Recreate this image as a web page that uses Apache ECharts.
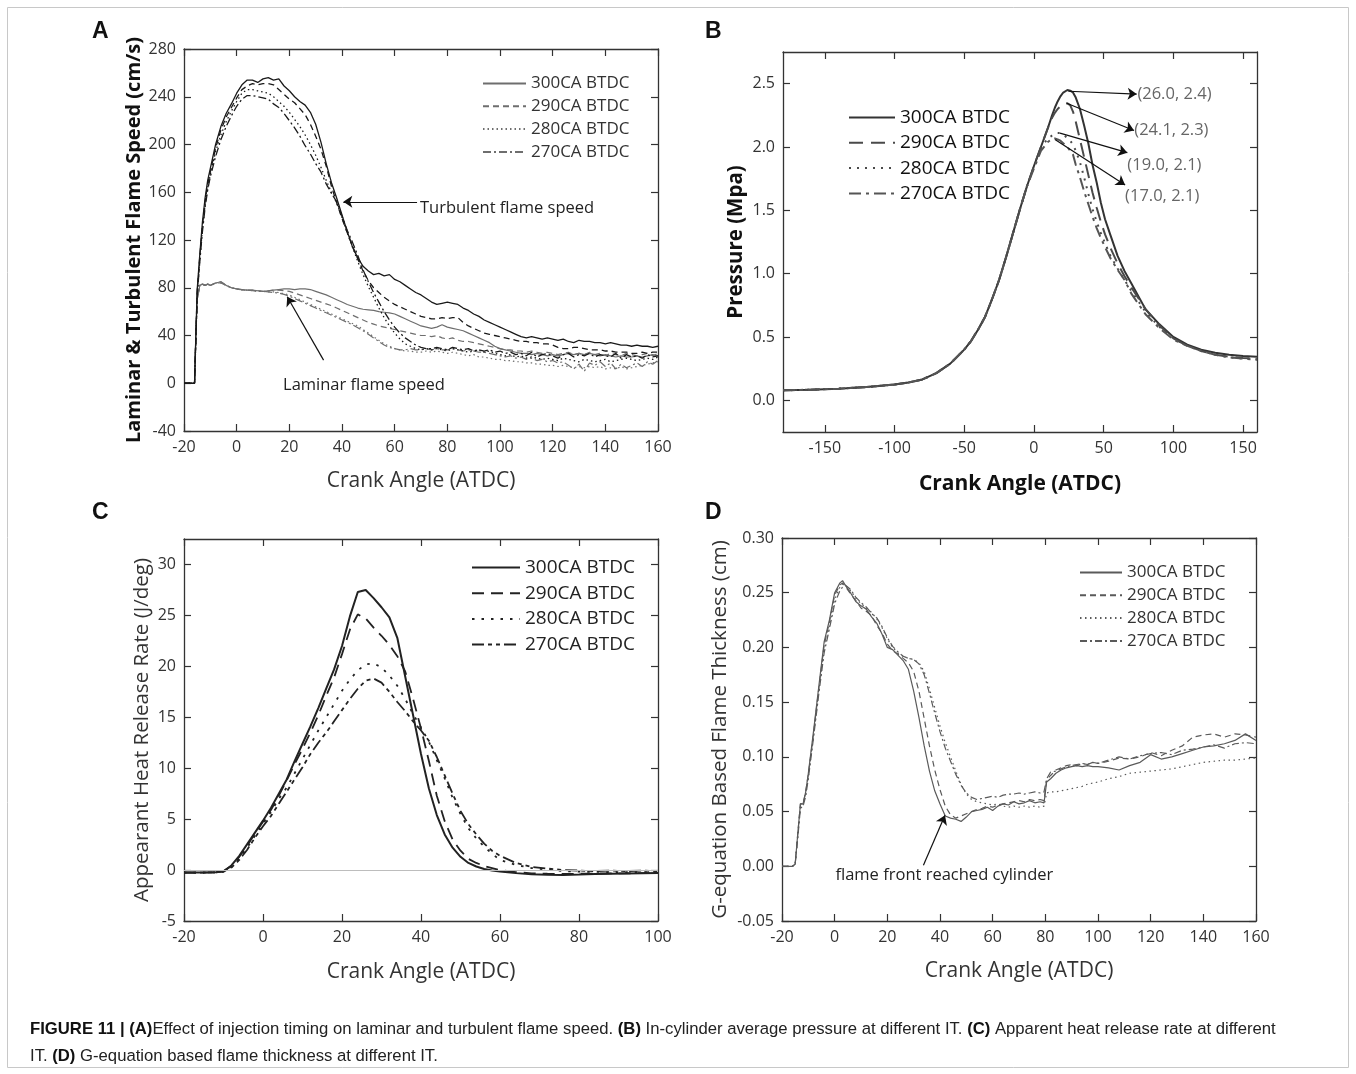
<!DOCTYPE html>
<html><head><meta charset="utf-8">
<script src="https://cdn.jsdelivr.net/npm/echarts@6/dist/echarts.min.js"></script>
<style>html,body{margin:0;padding:0;background:#fff}#c{width:1356px;height:1074px}</style>
</head><body><div id="c"></div>
<script>
// ---------------- Panel A : flame speed ----------------
const aX = [-20,-16,-15.5,-15,-14,-13,-12,-11,-10,-8,
 -6,-4,-2,0,2,4,6,8,10,12,
 14,16,18,20,22,24,26,28,30,32,
 34,36,38,40,42,44,46,48,50,52,
 54,56,58,60,62,64,66,68,70,72,
 74,76,78,80,82,84,86,88,90,92,
 94,96,98,100,102,104,106,108,110,112,
 114,116,118,120,122,124,126,128,130,132,
 134,136,138,140,142,144,146,148,150,152,
 154,156,158,160];
const aTurb300 = [0,0,40,78,108,135,155,170,180,200,
 215,226,234,243,250,254,254,252,255,256,
 254,255,249,245,240,236,233,227,217,202,
 184,168,155,141,127,114,105,98,94,91,
 92,90,91,87,85,82,79,76,74,71,
 68,66,67,68,67,66,63,61,58,56,
 53,51,49,47,45,43,41,39,38,39,
 38,37,38,37,36,37,35,34,36,35,
 35,34,34,33,34,33,32,32,31,32,
 31,31,30,31];
const aTurb290 = [0,0,38,76,106,132,152,167,177,197,
 212,223,231,239,246,249,251,250,251,251,
 250,246,242,238,235,230,225,217,207,196,
 182,165,151,138,126,115,104,94,86,80,
 76,72,69,66,64,62,60,58,56,55,
 54,54,55,54,55,55,51,48,46,44,
 42,41,40,39,38,37,36,35,35,34,
 34,33,33,32,30,29,29,30,30,29,
 28,28,28,27,27,26,26,26,25,25,
 26,25,26,26];
const aTurb280 = [0,0,36,74,104,129,149,164,175,194,
 208,219,228,236,243,246,246,245,244,243,
 240,236,232,227,221,215,208,200,191,181,
 170,160,151,139,126,114,102,91,81,72,
 63,55,48,42,37,33,31,29,28,29,
 28,29,28,27,29,28,27,26,27,28,
 26,27,25,24,23,24,22,23,21,22,
 21,20,21,20,19,21,20,19,18,20,
 19,18,19,20,18,19,20,21,20,19,
 20,21,20,22];
const aTurb270 = [0,0,36,73,102,127,147,162,173,190,
 204,215,224,232,238,241,241,240,239,238,
 234,231,226,220,214,207,199,192,184,177,
 167,159,152,140,128,118,107,95,85,76,
 68,60,53,47,42,38,35,32,30,29,
 29,30,29,28,30,29,28,29,27,28,
 27,28,26,27,25,26,24,25,23,26,
 22,24,25,23,21,24,25,22,24,23,
 25,22,24,23,22,25,21,24,22,23,
 21,24,22,23];
const aLam300 = [0,0,40,70,82,83,82,83,82,84,
 85,82,80,79,78.5,78,78,77.5,77,77.5,
 78,78.5,79,79,78.5,79,79,78.5,77,75.5,
 74,72,70,68,66,64.5,63,62,61.5,61,
 60,59.5,59,58,56,54,52,50,48,47,
 46,47,49,47,46,45,44,42,40,38,
 36,34,31,29,28,27,26,25,25,24,
 25,24,23,24,23,24,25,24,25,24,
 25,24,23,24,23,22,23,22,22,23,
 22,23,24,23];
const aLam290 = [0,0,40,70,82,83,82,83,82,84,
 85,82,80,79,78.5,78,78,77.5,77,77.5,
 78,78,77.5,77,75.5,74,72.5,71,69.5,68,
 66.5,65,63,61,59,57,55,53,51,49.5,
 48,47,46,45,44,43,42,41,40,40,
 39,40,38,37,38,36,35,35,34,33,
 32,31,30,29,28,28,27,27,26,27,
 26,25,26,25,24,25,26,24,25,24,
 26,24,25,23,25,24,23,25,24,23,
 24,25,23,25];
const aLam280 = [0,0,40,70,82,83,82,83,82,84,
 84,82,80,79,78,78,77.5,77,77,76.5,
 76.5,76,75,74,72,70,68,66,64,62,
 60,58,56,54,52,50,48,45,42,39,
 36,33,31,29,28,27,27,26,26,27,
 26,27,26,25,26,25,24,23,24,22,
 22,21,20,20,19,19,18,18,17,17,
 16,16,15,15,14,15,14,13,14,13,
 14,13,14,12,13,12,14,12,13,14,
 15,16,17,18];
const aLam270 = [0,0,40,70,82,83,82,83,82,84,
 84,82,80,79,78,78,77.5,77,77,76.5,
 76,75.5,74.5,73,71,69,67,65,63,61,
 59,57,55,53,51,49,46.5,44,41,38,
 35,32,30,29,28,28,29,28,28,29,
 28,29,28,28,29,28,27,28,27,26,
 26,25,24,23,22,23,21,22,20,21,
 19,20,18,19,17,18,15,12,16,10,
 17,15,18,14,17,12,16,13,15,17,
 14,18,16,19];

// ---------------- Panel B : pressure ----------------
const bX = [-180,-160,-140,-120,-100,-90,-80,-70,-60,-50,
 -45,-40,-35,-30,-25,-20,-15,-10,-5,0,
 5,10,13,15,17,19,21,24,26,28,
 30,33,36,39,42,45,48,51,55,60,
 65,70,80,90,100,110,120,130,140,150,
 160];
const b300 = [0.079,0.084,0.092,0.105,0.125,0.14,0.165,0.215,0.29,0.40,
 0.47,0.56,0.66,0.80,0.95,1.13,1.32,1.51,1.69,1.85,
 2.00,2.15,2.25,2.31,2.36,2.40,2.43,2.45,2.445,2.43,
 2.39,2.30,2.17,2.03,1.86,1.72,1.56,1.43,1.30,1.14,
 1.02,0.92,0.72,0.60,0.50,0.44,0.40,0.375,0.36,0.35,
 0.345];
const b290 = [0.079,0.084,0.092,0.105,0.125,0.14,0.165,0.215,0.29,0.40,
 0.47,0.56,0.66,0.80,0.95,1.13,1.32,1.51,1.69,1.85,
 2.00,2.15,2.23,2.27,2.30,2.32,2.34,2.345,2.33,2.28,
 2.20,2.06,1.92,1.78,1.64,1.52,1.41,1.31,1.20,1.08,
 0.98,0.89,0.72,0.59,0.49,0.43,0.39,0.36,0.345,0.335,
 0.33];
const b280 = [0.079,0.084,0.092,0.105,0.125,0.14,0.165,0.215,0.29,0.40,
 0.47,0.56,0.66,0.80,0.95,1.13,1.32,1.51,1.69,1.84,
 1.99,2.07,2.09,2.10,2.11,2.11,2.10,2.07,2.05,2.02,
 1.97,1.88,1.76,1.63,1.51,1.41,1.32,1.24,1.14,1.04,
 0.95,0.86,0.70,0.58,0.49,0.43,0.39,0.36,0.34,0.33,
 0.325];
const b270 = [0.079,0.084,0.092,0.105,0.125,0.14,0.165,0.215,0.29,0.40,
 0.47,0.56,0.66,0.80,0.95,1.13,1.32,1.51,1.69,1.83,
 1.97,2.04,2.065,2.068,2.06,2.05,2.03,2.00,1.97,1.94,
 1.86,1.76,1.65,1.55,1.45,1.36,1.28,1.21,1.12,1.03,
 0.95,0.84,0.68,0.57,0.48,0.43,0.39,0.36,0.34,0.33,
 0.32];
const bPeakLabels = ['(26.0, 2.4)','(24.1, 2.3)','(19.0, 2.1)','(17.0, 2.1)'];
const bArrowFrom = [[24.7,2.44],[23.5,2.345],[18.7,2.11],[15.1,2.06]];
const bArrowTo = [[73.7,2.418],[71.8,2.13],[67,1.955],[65.4,1.70]];
const bLabelAt = [[74.2,2.418],[72,2.13],[67,1.857],[65.4,1.607]];

// ---------------- Panel C : heat release rate ----------------
const cX = [-20,-16,-12,-10,-8,-6,-4,-2,0,2,
 4,6,8,10,12,14,16,18,20,22,
 24,26,28,30,32,34,36,38,40,42,
 44,46,48,50,52,54,56,58,60,64,
 68,72,76,80,84,88,92,96,100];
const c300 = [-0.25,-0.25,-0.22,-0.12,0.45,1.4,2.55,3.7,4.85,6.1,
 7.5,8.9,10.7,12.4,14.1,15.9,17.8,19.7,22.0,24.9,
 27.3,27.5,26.7,25.8,24.8,22.8,19.0,15.2,11.4,8.0,
 5.4,3.5,2.2,1.3,0.7,0.35,0.1,-0.05,-0.15,-0.3,
 -0.42,-0.46,-0.48,-0.44,-0.39,-0.36,-0.34,-0.32,-0.3];
const c290 = [-0.25,-0.25,-0.22,-0.12,0.4,1.3,2.4,3.6,4.75,5.9,
 7.3,8.8,10.4,11.9,13.5,15.2,17.1,18.9,21.2,23.6,
 25.1,24.7,23.8,23.0,22.1,21.0,19.5,16.8,13.9,10.7,
 7.3,4.8,3.0,1.9,1.1,0.7,0.4,0.2,0.0,-0.2,
 -0.32,-0.36,-0.38,-0.36,-0.34,-0.33,-0.32,-0.3,-0.3];
const c280 = [-0.25,-0.25,-0.22,-0.15,0.3,1.1,2.2,3.4,4.55,5.7,
 7.0,8.1,9.5,10.9,12.3,13.7,15.0,16.3,17.6,18.7,
 19.6,20.2,20.3,19.9,19.1,18.1,16.8,15.3,14.0,12.6,
 10.8,9.0,7.1,5.5,4.1,3.1,2.3,1.6,1.0,0.5,
 0.2,0.05,-0.1,-0.15,-0.18,-0.2,-0.2,-0.2,-0.2];
const c270 = [-0.25,-0.25,-0.22,-0.15,0.25,1.0,2.0,3.2,4.3,5.3,
 6.5,7.7,8.9,10.1,11.4,12.5,13.5,14.6,15.7,16.8,
 17.8,18.6,18.8,18.4,17.5,16.5,15.6,14.6,13.7,12.7,
 11.1,9.3,7.5,5.8,4.5,3.5,2.6,1.9,1.4,0.7,
 0.3,0.15,0.0,-0.05,-0.1,-0.05,-0.1,-0.05,-0.1];

// ---------------- Panel D : flame thickness ----------------
const dX = [-20,-16,-15,-14,-13,-12,-11,-10,-8,-6,
 -4,-2,0,2,3,4,6,8,10,12,
 14,16,18,20,22,24,26,28,30,32,
 34,36,38,40,42,44,46,48,50,52,
 54,56,58,60,62,64,66,68,70,72,
 74,76,78,79.5,80.5,82,84,86,88,90,
 92,94,96,98,100,104,108,112,116,120,
 124,128,132,136,140,144,148,152,156,160];
const d300 = [0,0,0.002,0.03,0.057,0.057,0.068,0.085,0.124,0.165,
 0.205,0.225,0.25,0.259,0.261,0.257,0.25,0.242,0.238,0.235,
 0.228,0.222,0.212,0.2,0.198,0.193,0.188,0.18,0.16,0.136,
 0.11,0.087,0.069,0.057,0.046,0.044,0.043,0.041,0.045,0.05,
 0.051,0.052,0.054,0.051,0.055,0.057,0.056,0.059,0.057,0.058,
 0.06,0.058,0.059,0.058,0.077,0.08,0.085,0.088,0.09,0.091,
 0.092,0.091,0.092,0.091,0.091,0.09,0.088,0.092,0.095,0.102,
 0.098,0.1,0.103,0.106,0.109,0.11,0.112,0.115,0.121,0.115];
const d290 = [0,0,0.002,0.03,0.057,0.057,0.068,0.084,0.122,0.163,
 0.202,0.223,0.248,0.257,0.259,0.256,0.249,0.243,0.236,0.233,
 0.229,0.22,0.213,0.203,0.197,0.194,0.19,0.186,0.178,0.16,
 0.135,0.11,0.088,0.07,0.055,0.047,0.044,0.046,0.048,0.05,
 0.052,0.053,0.055,0.054,0.056,0.057,0.058,0.059,0.06,0.059,
 0.061,0.06,0.061,0.06,0.079,0.083,0.088,0.09,0.092,0.093,
 0.092,0.094,0.093,0.095,0.094,0.096,0.099,0.098,0.1,0.104,
 0.101,0.106,0.11,0.118,0.12,0.121,0.118,0.121,0.12,0.118];
const d280 = [0,0,0.002,0.028,0.055,0.056,0.066,0.082,0.12,0.16,
 0.198,0.22,0.244,0.255,0.258,0.257,0.252,0.245,0.24,0.236,
 0.232,0.226,0.218,0.208,0.2,0.195,0.192,0.19,0.189,0.186,
 0.178,0.162,0.145,0.128,0.113,0.1,0.087,0.075,0.066,0.061,
 0.059,0.058,0.057,0.056,0.057,0.055,0.054,0.055,0.054,0.055,
 0.054,0.055,0.054,0.055,0.067,0.068,0.068,0.069,0.07,0.071,
 0.072,0.073,0.075,0.076,0.077,0.08,0.082,0.085,0.086,0.087,
 0.088,0.089,0.091,0.093,0.095,0.096,0.097,0.097,0.098,0.099];
const d270 = [0,0,0.002,0.026,0.053,0.055,0.064,0.08,0.118,0.158,
 0.195,0.217,0.24,0.252,0.255,0.257,0.253,0.246,0.241,0.237,
 0.231,0.227,0.219,0.209,0.201,0.196,0.192,0.19,0.189,0.185,
 0.175,0.158,0.14,0.123,0.108,0.096,0.084,0.074,0.067,0.063,
 0.061,0.062,0.063,0.064,0.063,0.065,0.066,0.066,0.067,0.066,
 0.067,0.068,0.067,0.068,0.08,0.086,0.087,0.089,0.091,0.092,
 0.093,0.094,0.093,0.095,0.094,0.097,0.1,0.098,0.101,0.103,
 0.104,0.102,0.106,0.107,0.109,0.111,0.108,0.112,0.113,0.112];

const timings = ['300','290','280','270'];
const aTicksX = [-20,0,20,40,60,80,100,120,140,160];
const aTicksY = [-40,0,40,80,120,160,200,240,280];
const bTicksX = [-150,-100,-50,0,50,100,150];
const bTicksY = [0,0.5,1,1.5,2,2.5];
const cTicksX = [-20,0,20,40,60,80,100];
const cTicksY = [-5,0,5,10,15,20,25,30];
const dTicksX = [-20,0,20,40,60,80,100,120,140,160];
const dTicksY = [-0.05,0,0.05,0.1,0.15,0.2,0.25,0.3];

// ---------------- build ----------------
const FONT = '"Open Sans", "DejaVu Sans", sans-serif';
const chart = echarts.init(document.getElementById('c'), null, {renderer:'canvas', width:1356, height:1074});

const grids = [
  {left:184, top:49, width:474, height:382},
  {left:783, top:52, width:474, height:380},
  {left:184, top:539, width:474, height:382},
  {left:782, top:538, width:474, height:383}
];

function axisPair(dim, p, min, max, ticks, fmt, name, nameGap, nameStyle){
  const base = () => ({
    type:'value', gridIndex:p, min, max,
    axisLine:{show:true, onZero:false, lineStyle:{color:'#333', width:1.3}},
    splitLine:{show:false},
    axisTick:{show:true, inside:true, length:7, customValues:ticks, lineStyle:{color:'#333', width:1.2}}
  });
  const main = Object.assign(base(), {
    position: dim === 'x' ? 'bottom' : 'left',
    axisLabel:{show:true, customValues:ticks, formatter:fmt, color:'#333', fontSize:16, fontFamily:FONT, margin:8},
    name, nameLocation:'middle', nameGap, nameRotate: dim === 'y' ? 90 : 0,
    nameTextStyle: Object.assign({fontFamily:FONT, color:'#222'}, nameStyle)
  });
  const mirror = Object.assign(base(), {position: dim === 'x' ? 'top' : 'right', axisLabel:{show:false}});
  return [main, mirror];
}

const intFmt = v => String(Math.round(v));
const xAxes = [
  ...axisPair('x',0,-20,160,aTicksX,intFmt,'Crank Angle (ATDC)',40,{fontSize:21,color:'#333'}),
  ...axisPair('x',1,-180,160,bTicksX,intFmt,'Crank Angle (ATDC)',42,{fontSize:21,fontWeight:'bold',color:'#111'}),
  ...axisPair('x',2,-20,100,cTicksX,intFmt,'Crank Angle (ATDC)',41,{fontSize:21,color:'#333'}),
  ...axisPair('x',3,-20,160,dTicksX,intFmt,'Crank Angle (ATDC)',40,{fontSize:21,color:'#333'})
];
const yAxes = [
  ...axisPair('y',0,-40,280,aTicksY,intFmt,'Laminar & Turbulent Flame Speed (cm/s)',40,{fontSize:20,fontWeight:'bold',color:'#111'}),
  ...axisPair('y',1,-0.25,2.75,bTicksY,v=>v.toFixed(1),'Pressure (Mpa)',36,{fontSize:20.5,fontWeight:'bold',color:'#111'}),
  ...axisPair('y',2,-5,32.5,cTicksY,intFmt,'Appearant Heat Release Rate (J/deg)',31,{fontSize:20.5,color:'#333'}),
  ...axisPair('y',3,-0.05,0.30,dTicksY,v=>v.toFixed(2),'G-equation Based Flame Thickness (cm)',51.5,{fontSize:20.5,color:'#333'})
];

function mk(name, p, xs, ys, color, width, type, z){
  return {type:'line', name, xAxisIndex:p*2, yAxisIndex:p*2,
    data: xs.map((x,i)=>[x, ys[i]]),
    symbol:'none', showSymbol:false, color, itemStyle:{color},
    lineStyle:{color, width, type}, emphasis:{disabled:true}, silent:true, z: z||2, clip:true};
}

const dashA = ['solid',[6,4],[1.5,3],[8,3,2,3]];
const series = [];
// Panel A
const aTurb = [aTurb300,aTurb290,aTurb280,aTurb270];
const aLam = [aLam300,aLam290,aLam280,aLam270];
timings.forEach((t,i)=>{ series.push(mk('A'+t, 0, aX, aLam[i], '#6e6e6e', 1.2, dashA[i], 2)); });
timings.forEach((t,i)=>{ series.push(mk('At'+t, 0, aX, aTurb[i], '#1a1a1a', 1.3, dashA[i], 3)); });
// Panel B
const dashB = ['solid',[14,8],[2,6],[12,5,3,5]];
const bY = [b300,b290,b280,b270];
const colB = ['#333','#4a4a4a','#4a4a4a','#555'];
timings.forEach((t,i)=>{ series.push(mk('B'+t, 1, bX, bY[i], colB[i], 2, dashB[i], 3)); });
// Panel C
const dashC = ['solid',[12,7],[2.5,7],[12,4,4,4,4,4]];
const cY = [c300,c290,c280,c270];
timings.forEach((t,i)=>{ series.push(mk('C'+t, 2, cX, cY[i], '#222', i===0?2:1.8, dashC[i], 3)); });
// Panel D
const dashD = ['solid',[6,4],[1.5,3.5],[7,3,2,3]];
const dY = [d300,d290,d280,d270];
timings.forEach((t,i)=>{ series.push(mk('D'+t, 3, dX, dY[i], '#5a5a5a', 1.2, dashD[i], 3)); });

const arrowLine = {silent:true, symbol:['none','arrow'], symbolSize:9, animation:false,
  label:{show:false}, lineStyle:{type:'solid', color:'#111', width:1.2}};
const txtPoint = (items, style) => ({silent:true, symbol:'circle', symbolSize:0, animation:false,
  label:Object.assign({show:true, position:'right', distance:0, formatter:'{b}', fontFamily:FONT}, style),
  data: items.map(it => ({name: it[0], coord: it[1]}))});

// annotations panel A (attached to turbulent 300)
const sAt = series.find(s=>s.name==='At300');
sAt.markLine = Object.assign({}, arrowLine, {data:[
  [{coord:[68.5,152]},{coord:[40.5,152]}],
  [{coord:[33,19.4]},{coord:[19.2,72.5]}]
]});
sAt.markPoint = txtPoint([['Turbulent flame speed',[69.6,146.7]],['Laminar flame speed',[17.6,-1.5]]], {fontSize:16.5, color:'#222'});
// panel B
const sB = series.find(s=>s.name==='B300');
sB.markLine = Object.assign({}, arrowLine, {data: bArrowFrom.map((f,i)=>[{coord:f},{coord:bArrowTo[i]}])});
sB.markPoint = txtPoint(bPeakLabels.map((l,i)=>[l,bLabelAt[i]]), {fontSize:16.5, color:'#666'});
// panel C zero line
const sC = series.find(s=>s.name==='C300');
sC.markLine = {silent:true, symbol:['none','none'], animation:false, label:{show:false},
  lineStyle:{type:'solid', color:'#bdbdbd', width:1}, data:[{yAxis:0}]};
// panel D
const sD = series.find(s=>s.name==='D300');
sD.markLine = Object.assign({}, arrowLine, {data:[[{coord:[33.7,0.001]},{coord:[41.9,0.0466]}]]});
sD.markPoint = txtPoint([['flame front reached cylinder',[0.3,-0.0082]]], {fontSize:16.5, color:'#222'});

const legFmt = n => n.replace(/^[A-Z]t?/,'') + 'CA BTDC';
function legend(p, left, top, w, gap, fs, color){
  return {data: timings.map(t=>p+t), orient:'vertical', left, top, itemWidth:w, itemHeight:12, itemGap:gap,
    selectedMode:false, formatter:legFmt, padding:0,
    itemStyle:{color:'rgba(0,0,0,0)', borderColor:'rgba(0,0,0,0)', borderWidth:0, opacity:0},
    textStyle:{fontSize:fs, color, fontFamily:FONT, padding:[0,0,0,0]}};
}

const caption1 = '{b|FIGURE 11 | (A)}Effect of injection timing on laminar and turbulent flame speed. {b|(B)} In-cylinder average pressure at different IT. {b|(C)} Apparent heat release rate at different';
const caption2 = 'IT. {b|(D)} G-equation based flame thickness at different IT.';
const CAPF = '"Liberation Sans", Arial, sans-serif';
const capStyle = (text) => ({text, fontSize:16.7, fontFamily:CAPF, fill:'#222',
  rich:{b:{fontWeight:'bold', fontSize:16.7, fontFamily:CAPF, fill:'#111'}}});
const panelLetter = (t,l,tp) => ({type:'text', left:l, top:tp, style:{text:t, fontSize:23, fontWeight:'bold', fontFamily:CAPF, fill:'#111'}});

chart.setOption({
  animation:false,
  backgroundColor:'#fff',
  grid: grids,
  xAxis: xAxes,
  yAxis: yAxes,
  legend: [
    legend('A', 482, 75, 43, 5.8, 17, '#333'),
    legend('B', 848, 108, 46, 6.3, 19, '#111'),
    legend('C', 471, 558, 48, 6.7, 19, '#222'),
    legend('D', 1079, 564, 42, 5.8, 17, '#333')
  ],
  series,
  graphic: [
    {type:'rect', shape:{x:7.5, y:7.5, width:1341, height:1060}, style:{fill:'none', stroke:'#c8c8c8', lineWidth:1}, silent:true},
    panelLetter('A', 92, 20), panelLetter('B', 705, 20), panelLetter('C', 92, 501), panelLetter('D', 705, 501),
    {type:'text', left:30, top:1021, style:capStyle(caption1)},
    {type:'text', left:30, top:1048, style:capStyle(caption2)}
  ]
});
</script>
</body></html>
